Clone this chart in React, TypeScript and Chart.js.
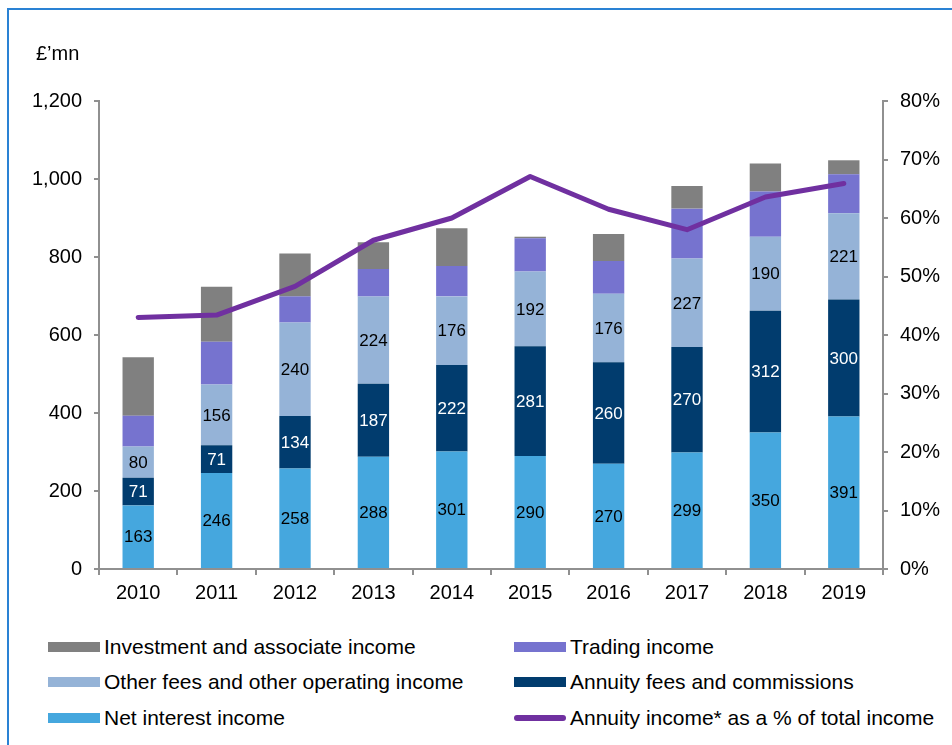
import React, { useEffect, useRef } from "react";
import { Chart, registerables } from "chart.js";

Chart.register(...registerables);

const years = ["2010", "2011", "2012", "2013", "2014", "2015", "2016", "2017", "2018", "2019"];
const netInterest = [163, 246, 258, 288, 301, 290, 270, 299, 350, 391];
const annuityFees = [71, 71, 134, 187, 222, 281, 260, 270, 312, 300];
const otherFees = [80, 156, 240, 224, 176, 192, 176, 227, 190, 221];
const trading = [79, 110, 67, 70, 78, 85, 84, 128, 116, 100];
const investment = [150, 141, 110, 69, 97, 4, 69, 58, 72, 36];
const annuityPct = [43.0, 43.4, 48.3, 56.2, 60.0, 67.1, 61.5, 58.0, 63.6, 65.9];

const FONT = '"Liberation Sans", Arial, sans-serif';
const AXIS = "#909090";

const C_NET = "#45A7DE";
const C_ANN = "#013C6E";
const C_OTH = "#95B3D7";
const C_TRD = "#7673CF";
const C_INV = "#808080";
const C_LINE = "#7030A0";

const segLabels = {
  id: "segLabels",
  afterDatasetsDraw(chart: any) {
    const ctx = chart.ctx;
    ctx.save();
    ctx.font = `17px ${FONT}`;
    ctx.textAlign = "center";
    ctx.textBaseline = "middle";
    chart.data.datasets.forEach((ds: any, i: number) => {
      if (!ds.showLabels) return;
      const meta = chart.getDatasetMeta(i);
      meta.data.forEach((el: any, j: number) => {
        const p = el.getProps(["x", "y", "base"], true);
        ctx.fillStyle = ds.labelColor;
        ctx.fillText(String(ds.data[j]), p.x, (p.y + p.base) / 2 + 1);
      });
    });
    ctx.restore();
  },
};

function ChartCanvas() {
  const ref = useRef<HTMLCanvasElement | null>(null);
  useEffect(() => {
    if (!ref.current) return;
    const tickFont = { family: FONT, size: 20 };
    const chart = new Chart(ref.current, {
      type: "bar",
      data: {
        labels: years,
        datasets: [
          {
            type: "line",
            label: "Annuity income* as a % of total income",
            data: annuityPct,
            yAxisID: "y1",
            borderColor: C_LINE,
            backgroundColor: C_LINE,
            borderWidth: 5,
            pointRadius: 0,
            tension: 0,
            borderCapStyle: "round",
            borderJoinStyle: "round",
            order: 0,
          } as any,
          { label: "Net interest income", data: netInterest, backgroundColor: C_NET, order: 1, showLabels: true, labelColor: "#000" } as any,
          { label: "Annuity fees and commissions", data: annuityFees, backgroundColor: C_ANN, order: 1, showLabels: true, labelColor: "#fff" } as any,
          { label: "Other fees and other operating income", data: otherFees, backgroundColor: C_OTH, order: 1, showLabels: true, labelColor: "#000" } as any,
          { label: "Trading income", data: trading, backgroundColor: C_TRD, order: 1 } as any,
          { label: "Investment and associate income", data: investment, backgroundColor: C_INV, order: 1 } as any,
        ],
      },
      options: {
        animation: false,
        responsive: false,
        devicePixelRatio: 1,
        layout: { padding: { top: 101, left: 0, right: 0, bottom: 0 } },
        datasets: { bar: { barPercentage: 0.4, categoryPercentage: 1 } },
        plugins: { legend: { display: false }, tooltip: { enabled: false } },
        scales: {
          x: {
            stacked: true,
            offset: true,
            grid: { display: true, drawOnChartArea: false, drawTicks: true, tickLength: 6, color: AXIS, lineWidth: 2, offset: true },
            border: { display: true, color: AXIS, width: 2 },
            ticks: { color: "#000", font: tickFont, padding: 6, maxRotation: 0 },
            afterFit: (s: any) => { s.height = 51; },
          },
          y: {
            stacked: true,
            min: 0,
            max: 1200,
            position: "left",
            grid: { display: true, drawOnChartArea: false, drawTicks: true, tickLength: 5, color: AXIS, lineWidth: 2 },
            border: { display: true, color: AXIS, width: 2 },
            ticks: {
              stepSize: 200,
              color: "#000",
              font: tickFont,
              padding: 12,
              callback: (v: any) => Number(v).toLocaleString("en-US"),
            },
            afterFit: (s: any) => { s.width = 99; },
          },
          y1: {
            min: 0,
            max: 80,
            position: "right",
            grid: { display: true, drawOnChartArea: false, drawTicks: true, tickLength: 5, color: AXIS, lineWidth: 2 },
            border: { display: true, color: AXIS, width: 2 },
            ticks: {
              stepSize: 10,
              color: "#000",
              font: tickFont,
              padding: 12,
              callback: (v: any) => `${v}%`,
            },
            afterFit: (s: any) => { s.width = 69; },
          },
        },
      } as any,
      plugins: [segLabels],
    });
    return () => chart.destroy();
  }, []);
  return <canvas ref={ref} width={952} height={620} style={{ position: "absolute", left: 0, top: 0, width: 952, height: 620 }} />;
}

const legendItems = [
  { label: "Investment and associate income", color: C_INV, col: 0, row: 0, line: false },
  { label: "Trading income", color: C_TRD, col: 1, row: 0, line: false },
  { label: "Other fees and other operating income", color: C_OTH, col: 0, row: 1, line: false },
  { label: "Annuity fees and commissions", color: C_ANN, col: 1, row: 1, line: false },
  { label: "Net interest income", color: C_NET, col: 0, row: 2, line: false },
  { label: "Annuity income* as a % of total income", color: C_LINE, col: 1, row: 2, line: true },
];

export default function App() {
  const rowY = [647, 682, 718];
  const colX = [48, 514];
  return (
    <div style={{ position: "fixed", left: 0, top: 0, width: 952, height: 745, overflow: "hidden", background: "#fff", fontFamily: FONT }}>
      <div style={{ position: "absolute", left: 7, top: 8, width: 1000, height: 800, borderTop: "2px solid #2a82d4", borderLeft: "2px solid #2a82d4" }} />
      <ChartCanvas />
      <div style={{ position: "absolute", left: 36, top: 43, fontSize: 20, lineHeight: "20px", color: "#000" }}>£’mn</div>
      {legendItems.map((it) => (
        <div key={it.label}>
          <div
            style={{
              position: "absolute",
              left: colX[it.col],
              top: rowY[it.row] - (it.line ? 3 : 5),
              width: 52,
              height: it.line ? 6 : 10,
              background: it.color,
              borderRadius: it.line ? 3 : 0,
            }}
          />
          <div
            style={{
              position: "absolute",
              left: colX[it.col] + 56,
              top: rowY[it.row] - 12,
              fontSize: 21,
              lineHeight: "24px",
              color: "#000",
              whiteSpace: "nowrap",
            }}
          >
            {it.label}
          </div>
        </div>
      ))}
    </div>
  );
}
